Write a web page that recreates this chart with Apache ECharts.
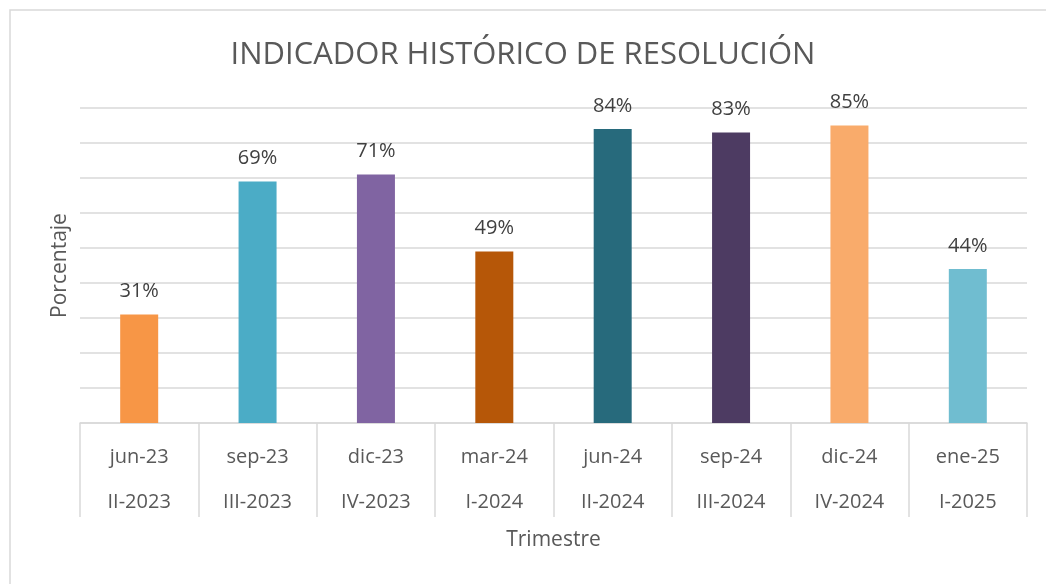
<!DOCTYPE html>
<html>
<head>
    <meta charset="utf-8">
    <title>Indicador histórico de resolución</title>
    <script src="https://cdn.jsdelivr.net/npm/echarts@6/dist/echarts.min.js"></script>
    <style>
        html, body { margin: 0; padding: 0; background: #fff; }
        #main { width: 1046px; height: 584px; }
    </style>
</head>
<body>
<div id="main"></div>
<script type="text/javascript">
    // datos del gráfico
    var meses = ['jun-23', 'sep-23', 'dic-23', 'mar-24', 'jun-24', 'sep-24', 'dic-24', 'ene-25'];
    var trimestres = ['II-2023', 'III-2023', 'IV-2023', 'I-2024', 'II-2024', 'III-2024', 'IV-2024', 'I-2025'];
    var porcentajes = [31, 69, 71, 49, 84, 83, 85, 44];
    var colores = ['#F79646', '#4BACC6', '#8064A2', '#B65708', '#276A7C', '#4D3B62', '#F9AB6B', '#70BDD0'];

    var fuente = '"Open Sans", "Noto Sans", sans-serif';
    var myChart = echarts.init(document.getElementById('main'));

    var option = {
        backgroundColor: '#fff',
        animation: false,
        textStyle: { fontFamily: fuente },
        graphic: [{
            type: 'rect',
            shape: { x: 10, y: 10, width: 1060, height: 600 },
            style: { fill: 'none', stroke: '#d9d9d9', lineWidth: 1.5 }
        }],
        title: {
            text: 'INDICADOR HISTÓRICO DE RESOLUCIÓN',
            left: 'center',
            top: 35,
            textStyle: { fontSize: 31, fontWeight: 'normal', color: '#595959', fontFamily: fuente }
        },
        grid: { left: 80, right: 19, top: 108, bottom: 161 },
        xAxis: {
            type: 'category',
            data: meses,
            name: 'Trimestre',
            nameLocation: 'middle',
            nameGap: 107,
            nameTextStyle: { fontSize: 21, color: '#595959' },
            axisLine: { lineStyle: { color: '#d9d9d9', width: 1.5 } },
            axisTick: { show: true, length: 94, lineStyle: { color: '#d9d9d9', width: 1.5 } },
            axisLabel: {
                margin: 12,
                fontSize: 20,
                color: '#595959',
                lineHeight: 45,
                formatter: function (v, i) { return v + '\n' + trimestres[i]; }
            }
        },
        yAxis: {
            type: 'value',
            min: 0,
            max: 90,
            interval: 10,
            name: 'Porcentaje',
            nameLocation: 'middle',
            nameGap: 9,
            nameTextStyle: { fontSize: 21, color: '#595959' },
            axisLabel: { show: false },
            axisLine: { show: false },
            axisTick: { show: false },
            splitLine: { lineStyle: { color: '#d9d9d9', width: 1.5 } }
        },
        series: [{
            type: 'bar',
            barWidth: 38,
            data: porcentajes.map(function (v, i) {
                return { value: v, itemStyle: { color: colores[i] } };
            }),
            label: {
                show: true,
                position: 'top',
                distance: 13,
                fontSize: 20,
                color: '#404040',
                formatter: '{c}%'
            }
        }]
    };

    myChart.setOption(option);
</script>
</body>
</html>
